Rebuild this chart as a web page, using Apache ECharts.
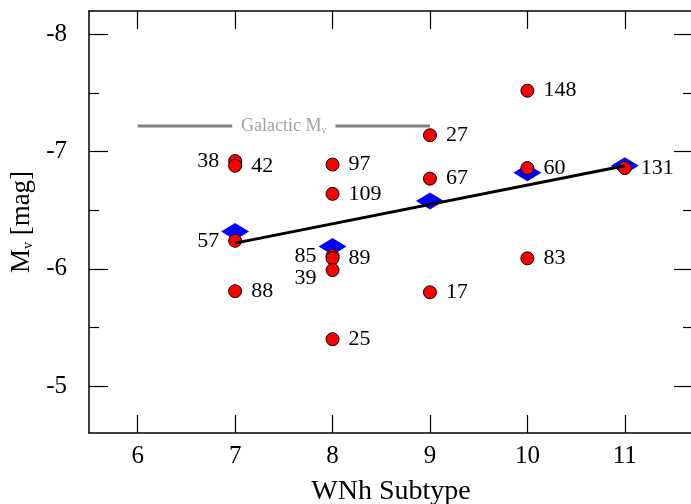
<!DOCTYPE html>
<html>
<head>
<meta charset="utf-8">
<script src="https://cdn.jsdelivr.net/npm/echarts@6/dist/echarts.min.js"></script>
<style>html,body{margin:0;padding:0;background:#fff;}#c{width:691px;height:504px;}</style>
</head>
<body>
<div id="c"></div>
<script>
// ---- data ----
var starIds   = ['38','42','57','88','97','109','85','89','39','25','27','67','17','148','60','83','131'];
var starType  = [7,7,7,7,8,8,8,8,8,8,9,9,9,10,10,10,11];
var starMv    = [-6.92,-6.88,-6.24,-5.81,-6.89,-6.64,-6.11,-6.09,-5.99,-5.40,-7.14,-6.77,-5.80,-7.52,-6.86,-6.09,-6.86];
var labelSide = ['left','right','left','right','right','right','left','right','left','right','right','right','right','right','right','right','right'];
var labelDy   = [0,0,0,0,0,0,0,0,8,0,0,0,0,0,0,0,0];

var meanType  = [7,8,9,10,11];
var meanMv    = [-6.32,-6.19,-6.58,-6.82,-6.88];

var fitType   = [7,11];
var fitMv     = [-6.22,-6.88];

var galMv        = -7.22;
var galLeftType  = [6,6.97];
var galRightType = [8.03,9];
var galLabelType = 7.5;

var xTicks    = [6,7,8,9,10,11];
var yTicks    = [-8,-7,-6,-5];
var yMinor    = [-7.5,-6.5,-5.5];

var FONT = '"Liberation Serif", "Times New Roman", serif';

function zip(a,b){ return a.map(function(v,i){ return [v, Array.isArray(b) ? b[i] : b]; }); }

var starData = starIds.map(function(id,i){
  return {
    value:[starType[i], starMv[i]],
    name:id,
    label:{position:labelSide[i], offset:[0,labelDy[i]]}
  };
});

var chart = echarts.init(document.getElementById('c'));

function xAx(pos, labels){
  return {
    type:'value', position:pos, min:5.5, max:11.7,
    axisLine:{show:true, lineStyle:{color:'#000', width:1.5}},
    axisTick:{show:true, inside:true, length:18, customValues:xTicks, lineStyle:{color:'#000', width:1.2}},
    axisLabel:{show:labels, customValues:xTicks, margin:11, fontFamily:FONT, fontSize:25, color:'#000'},
    splitLine:{show:false},
    name: labels ? 'WNh Subtype' : '',
    nameLocation:'middle', nameGap:45,
    nameTextStyle:{fontFamily:FONT, fontSize:28, color:'#000'}
  };
}
function yAx(pos, vals, len, labels, showLine){
  return {
    type:'value', position:pos, inverse:true, min:-8.2, max:-4.6,
    axisLine:{show:showLine, onZero:false, lineStyle:{color:'#000', width:1.5}},
    axisTick:{show:true, inside:true, length:len, customValues:vals, lineStyle:{color:'#000', width:1.2}},
    axisLabel:{show:labels, customValues:vals, margin:22, fontFamily:FONT, fontSize:25, color:'#000'},
    splitLine:{show:false},
    name: labels ? '{a|M}{s|v}{a| [mag]}' : '',
    nameLocation:'middle', nameGap:53, nameRotate:90,
    nameTextStyle:{fontFamily:FONT, fontSize:27, color:'#000',
      rich:{
        a:{fontFamily:FONT, fontSize:27, color:'#000'},
        s:{fontFamily:FONT, fontSize:14, color:'#000', verticalAlign:'bottom', padding:[8,0,0,0]}
      }}
  };
}

chart.setOption({
  animation:false,
  backgroundColor:'#fff',
  grid:{left:89, top:11, right:-2, bottom:71, containLabel:false, outerBoundsMode:'none'},
  xAxis:[ xAx('bottom', true), xAx('top', false) ],
  yAxis:[
    yAx('left', yTicks, 19, true, true),
    yAx('left', yMinor, 10, false, false),
    yAx('right', yTicks, 19, false, true),
    yAx('right', yMinor, 10, false, false)
  ],
  series:[
    {
      type:'line', data:zip(galLeftType, galMv), symbol:'none', z:1, silent:true,
      lineStyle:{color:'#808080', width:3}
    },
    {
      type:'line', data:zip(galRightType, galMv), symbol:'none', z:1, silent:true,
      lineStyle:{color:'#808080', width:3}
    },
    {
      type:'scatter', data:[[galLabelType, galMv]], symbolSize:0, z:2, silent:true,
      itemStyle:{color:'rgba(0,0,0,0)', borderWidth:0},
      label:{show:true, position:'inside', color:'#888',
        formatter:'{g|Galactic M}{s|v}',
        rich:{
          g:{fontFamily:FONT, fontSize:18, color:'#888'},
          s:{fontFamily:FONT, fontSize:10, color:'#888', verticalAlign:'bottom', padding:[6,0,0,0]}
        }}
    },
    {
      type:'scatter', data:zip(meanType, meanMv), symbol:'diamond', symbolSize:[28,17], z:3,
      itemStyle:{color:'#0000ff', opacity:1}
    },
    {
      type:'scatter', data:starData, symbol:'circle', symbolSize:13, z:4,
      itemStyle:{color:'#ff0000', borderColor:'#000', borderWidth:1, opacity:1},
      label:{show:true, formatter:function(p){return p.name;}, distance:9,
        fontFamily:FONT, fontSize:22, color:'#000'}
    },
    {
      type:'line', data:zip(fitType, fitMv), symbol:'none', z:5,
      lineStyle:{color:'#000', width:3}
    }
  ]
});
</script>
</body>
</html>
